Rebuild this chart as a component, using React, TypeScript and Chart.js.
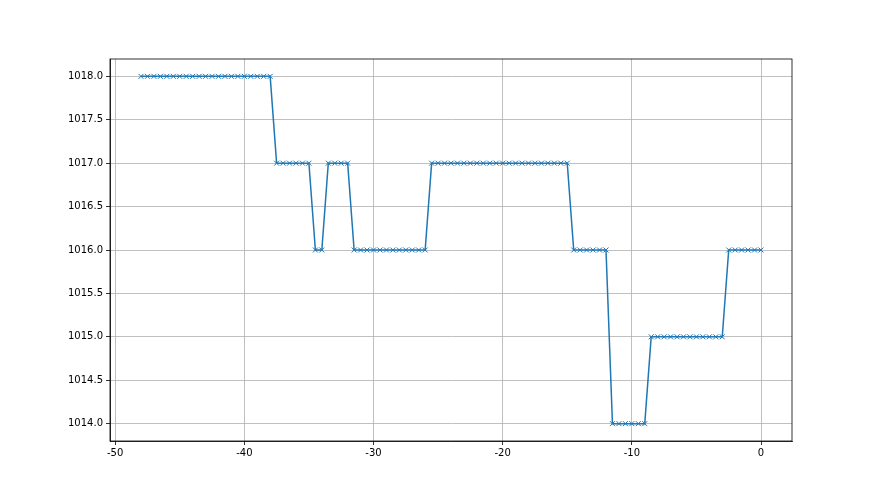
import React, { useEffect, useRef } from "react";
import { Chart, registerables } from "chart.js";

Chart.register(...registerables);

// x positions (hours), step 0.5 from -48 to 0
const xValues: number[] = [
  -48, -47.5, -47, -46.5, -46, -45.5, -45, -44.5, -44, -43.5, -43, -42.5, -42, -41.5, -41, -40.5, -40, -39.5, -39, -38.5, -38,
  -37.5, -37, -36.5, -36, -35.5, -35,
  -34.5, -34,
  -33.5, -33, -32.5, -32,
  -31.5, -31, -30.5, -30, -29.5, -29, -28.5, -28, -27.5, -27, -26.5, -26,
  -25.5, -25, -24.5, -24, -23.5, -23, -22.5, -22, -21.5, -21, -20.5, -20, -19.5, -19, -18.5, -18, -17.5, -17, -16.5, -16, -15.5, -15,
  -14.5, -14, -13.5, -13, -12.5, -12,
  -11.5, -11, -10.5, -10, -9.5, -9,
  -8.5, -8, -7.5, -7, -6.5, -6, -5.5, -5, -4.5, -4, -3.5, -3,
  -2.5, -2, -1.5, -1, -0.5, 0,
];

const pressure: number[] = [
  1018, 1018, 1018, 1018, 1018, 1018, 1018, 1018, 1018, 1018, 1018, 1018, 1018, 1018, 1018, 1018, 1018, 1018, 1018, 1018, 1018,
  1017, 1017, 1017, 1017, 1017, 1017,
  1016, 1016,
  1017, 1017, 1017, 1017,
  1016, 1016, 1016, 1016, 1016, 1016, 1016, 1016, 1016, 1016, 1016, 1016,
  1017, 1017, 1017, 1017, 1017, 1017, 1017, 1017, 1017, 1017, 1017, 1017, 1017, 1017, 1017, 1017, 1017, 1017, 1017, 1017, 1017, 1017,
  1016, 1016, 1016, 1016, 1016, 1016,
  1014, 1014, 1014, 1014, 1014, 1014,
  1015, 1015, 1015, 1015, 1015, 1015, 1015, 1015, 1015, 1015, 1015, 1015,
  1016, 1016, 1016, 1016, 1016, 1016,
];

const xTicks: number[] = [-50, -40, -30, -20, -10, 0];
const yTicks: number[] = [1014, 1014.5, 1015, 1015.5, 1016, 1016.5, 1017, 1017.5, 1018];

const frame = {
  id: "frame",
  afterDraw(chart: any) {
    const { ctx, chartArea: a } = chart;
    ctx.save();
    ctx.strokeStyle = "#000";
    ctx.lineWidth = 0.8;
    ctx.strokeRect(a.left, a.top, a.right - a.left, a.bottom - a.top);
    ctx.restore();
  },
};

export default function App() {
  const ref = useRef<HTMLCanvasElement | null>(null);
  useEffect(() => {
    document.body.style.margin = "0";
    const canvas = ref.current!;
    const data = xValues.map((x, i) => ({ x, y: pressure[i] }));
    const font = { family: "DejaVu Sans", size: 10 };
    const chart = new Chart(canvas, {
      type: "line",
      data: {
        datasets: [
          {
            data,
            borderColor: "#1f77b4",
            backgroundColor: "#1f77b4",
            borderWidth: 1.5,
            pointStyle: "crossRot",
            pointRadius: 3.5,
            pointBorderWidth: 1,
            pointBorderColor: "#1f77b4",
            tension: 0,
          },
        ],
      },
      options: {
        animation: false,
        responsive: false,
        layout: { padding: { left: 0, top: 59, right: 88, bottom: 0 } },
        plugins: { legend: { display: false }, tooltip: { enabled: false } },
        scales: {
          x: {
            type: "linear",
            min: -50.4,
            max: 2.4,
            afterBuildTicks: (s: any) => {
              s.ticks = xTicks.map((v) => ({ value: v }));
            },
            afterFit: (s: any) => {
              s.height = 54;
            },
            grid: { color: "#b0b0b0", lineWidth: 0.8, tickColor: "#000", tickLength: 4 },
            border: { color: "#000", width: 0.8 },
            ticks: { color: "#000", font, padding: 2, maxRotation: 0, callback: (v: any) => String(v) },
          },
          y: {
            type: "linear",
            min: 1013.8,
            max: 1018.2,
            afterBuildTicks: (s: any) => {
              s.ticks = yTicks.map((v) => ({ value: v }));
            },
            afterFit: (s: any) => {
              s.width = 110;
            },
            grid: { color: "#b0b0b0", lineWidth: 0.8, tickColor: "#000", tickLength: 4 },
            border: { color: "#000", width: 0.8 },
            ticks: { color: "#000", font, padding: 3, callback: (v: any) => Number(v).toFixed(1) },
          },
        },
      },
      plugins: [frame],
    });
    return () => chart.destroy();
  }, []);
  return <canvas ref={ref} width={880} height={495} style={{ display: "block" }} />;
}
